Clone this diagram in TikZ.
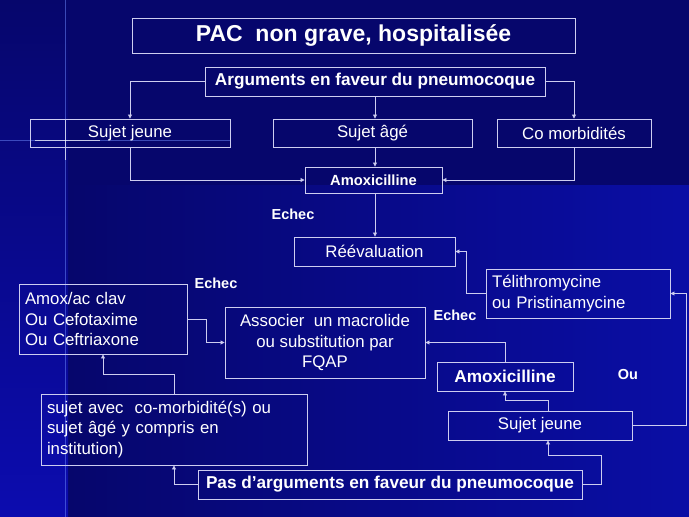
\documentclass[tikz,border=0pt]{standalone}
\usepackage{fontspec}
\setmainfont{Liberation Sans}
\usetikzlibrary{arrows.meta,calc}
\definecolor{bgdark}{RGB}{6,6,108}
\definecolor{bgbright}{RGB}{10,14,165}
\definecolor{bgleft}{RGB}{12,12,175}
\definecolor{linec}{RGB}{205,205,240}
\definecolor{glow}{RGB}{110,140,255}
\tikzset{
  box/.style={draw=linec, line width=0.9pt, inner sep=0pt, text=white, align=center},
  lbox/.style={box, align=left},
  arr/.style={draw=linec, line width=0.8pt, -{Triangle[length=4pt,width=4pt]}},
  lbl/.style={text=white, font=\fontsize{14.5}{16}\selectfont\bfseries, inner sep=0pt},
  reg/.style={font=\fontsize{16.8}{20.5}\selectfont},
  bld/.style={font=\fontsize{17.2}{20}\selectfont\bfseries}
}
\begin{document}
\begin{tikzpicture}[x=1pt,y=-1pt]
\useasboundingbox (0,0) rectangle (689,517);
% background
\fill[bgdark] (0,0) rectangle (689,517);
\shade[left color=bgdark, right color=bgbright] (68,185) rectangle (689,517);
\shade[top color=bgdark, bottom color=bgleft] (0,0) rectangle (68,517);
% sparkle
\draw[glow, line width=0.7pt, opacity=0.5] (65,0) -- (65,517);
\draw[glow, line width=0.7pt, opacity=0.5] (0,140) -- (230,140);
\draw[white, line width=0.9pt, opacity=0.7] (65,120) -- (65,160);
\draw[white, line width=0.9pt, opacity=0.7] (35,140) -- (100,140);

% nodes
\node[box, minimum width=443, minimum height=35, font=\fontsize{23}{26}\selectfont\bfseries] (title) at (353.5,35.5) {PAC\ \ non grave, hospitalisée};
\node[box, bld, minimum width=340, minimum height=29] (args) at (375,81.5) {Arguments en faveur du pneumocoque};
\node[box, reg, minimum width=200, minimum height=28] (sj1) at (130,133) {Sujet jeune};
\node[box, reg, minimum width=199, minimum height=28] (sa) at (372.5,133) {Sujet âgé};
\node[box, reg, minimum width=154, minimum height=28] (cm) at (574,133) {Co morbidités};
\node[box, minimum width=137, minimum height=26, font=\fontsize{14.7}{16}\selectfont\bfseries] (amox1) at (373.5,180) {Amoxicilline};
\node[box, reg, minimum width=161, minimum height=29] (reeval) at (374.5,251.5) {Réévaluation};
\node[lbox, reg, text width=172, minimum height=49, inner xsep=6] (teli) at (578,293.5) {Télithromycine\\ou Pristinamycine};
\node[lbox, reg, text width=156, minimum height=70, inner xsep=6] (amoxclav) at (103,319) {Amox/ac clav\\Ou Cefotaxime\\Ou Ceftriaxone};
\node[box, reg, minimum width=200, minimum height=71] (assoc) at (325,342.5) {Associer\ \ un macrolide\\ou substitution par\\FQAP};
\node[box, bld, minimum width=136, minimum height=29] (amox2) at (505,376.5) {Amoxicilline};
\node[lbox, reg, text width=254, minimum height=71, inner xsep=6] (sujetavec) at (174,429.5) {sujet avec\ \ co-morbidité(s) ou\\sujet âgé y compris en\\institution)};
\node[box, reg, minimum width=184, minimum height=29] (sj2) at (540,425.5) {Sujet jeune};
\node[box, bld, minimum width=384, minimum height=29] (pas) at (390,484.5) {Pas d’arguments en faveur du pneumocoque};

% labels
\node[lbl] (e1) at (293,214) {Echec};
\node[lbl] (e2) at (216,283) {Echec};
\node[lbl] (e3) at (455,315) {Echec};
\node[lbl] (ou) at (628,375) {Ou};

% connectors
\draw[arr] (args.west) -| (sj1.north);
\draw[arr] (args.south) -- (args.south |- sa.north);
\draw[arr] (args.east) -| (cm.north);
\draw[arr] (sj1.south) |- (amox1.west);
\draw[arr] (args.south |- sa.south) -- (args.south |- amox1.north);
\draw[arr] (cm.south) |- (amox1.east);
\draw[arr] (args.south |- amox1.south) -- (args.south |- reeval.north);
\draw[arr] (teli.west) -- ++(-19,0) |- (reeval.east);
\draw[arr] (amoxclav.east) -- ++(19,0) |- (assoc.west);
\draw[arr] (sujetavec.north) -- ++(0,-19) -| (amoxclav.south);
\draw[arr] (amox2.north) |- (assoc.east);
\draw[arr] ([xshift=8]sj2.north) -- ++(0,-10) -| (amox2.south);
\draw[arr] (pas.east) -- ++(19,0) -- ++(0,-29.5) -| ([xshift=8]sj2.south);
\draw[arr] (pas.west) -| (sujetavec.south);
\draw[arr] (sj2.east) -- ++(54,0) |- (teli.east);
\end{tikzpicture}
\end{document}
